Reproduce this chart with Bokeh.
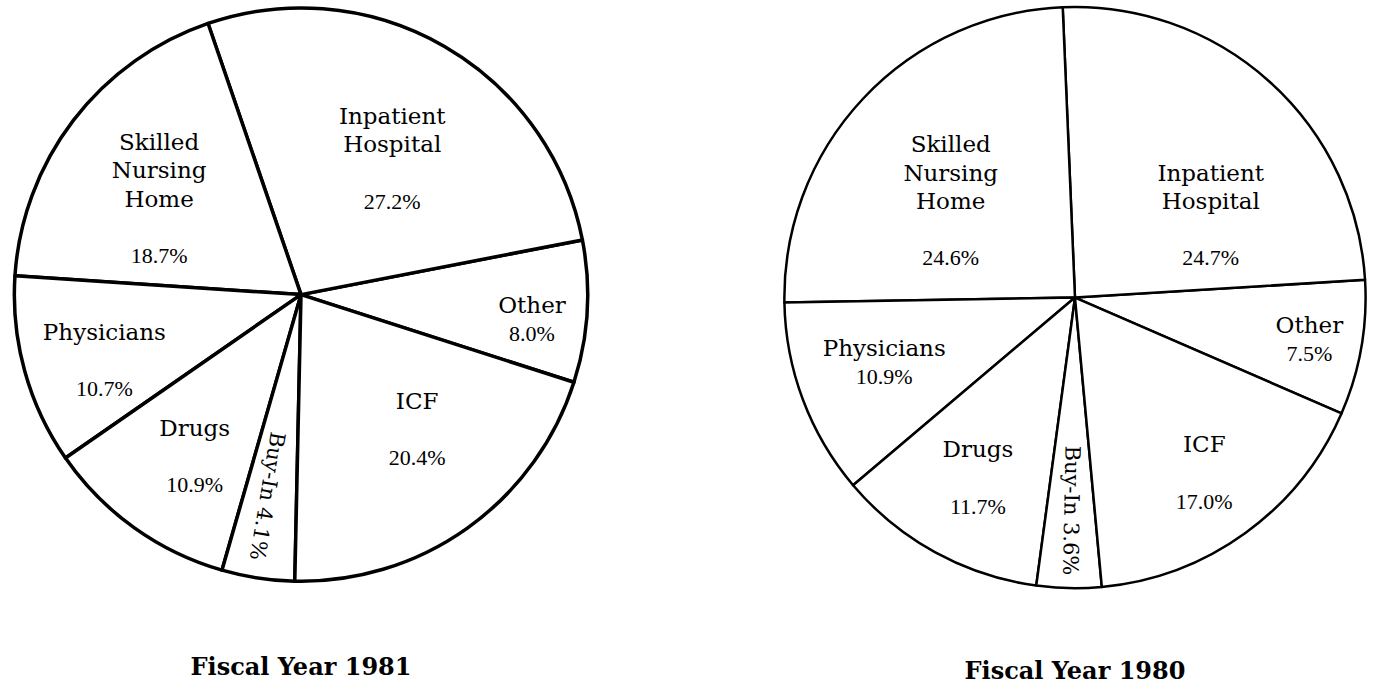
import math
from bokeh.plotting import figure
from bokeh.models import Range1d, ColumnDataSource
from bokeh.core.properties import value
from bokeh.embed import file_html
from bokeh.resources import INLINE

# ---------------- data ----------------
categories = ["Other", "Inpatient Hospital", "Skilled Nursing Home",
              "Physicians", "Drugs", "Buy-In", "ICF"]
name_lines = [["Other"], ["Inpatient", "Hospital"], ["Skilled", "Nursing", "Home"],
              ["Physicians"], ["Drugs"], ["Buy-In"], ["ICF"]]
pct_1981 = [8.0, 27.2, 18.7, 10.7, 10.9, 4.1, 20.4]
pct_1980 = [7.5, 24.7, 24.6, 10.9, 11.7, 3.6, 17.0]
titles = ["Fiscal Year 1981", "Fiscal Year 1980"]

# ---------------- layout (reference pixel space, y measured downward) ----------------
W, H = 1389, 700
pies = [
    dict(values=pct_1981, title=titles[0], cx=304, cy=301, r=290, start=-17.8, lw=3.5,
         gap=[False, True, True, True, True, None, True],
         nudge=[-2.7, -3.5, 3.0, 3.2, 2.5, -0.8, 5.0],
         lr=[235, 167, 174, 210, 197, 209, 181],
         title_y=682),
    dict(values=pct_1980, title=titles[1], cx=1087, cy=304, r=294, start=-23.5, lw=2.5,
         gap=[False, True, True, False, True, None, True],
         nudge=[-0.3, -16.5, 5.1, -1.7, 0.7, 0.2, 0.2],
         lr=[241, 161, 160, 204, 209, 218, 222],
         title_y=686),
]
LINE_H = 29

p = figure(width=1373, height=684, x_range=Range1d(0, W), y_range=Range1d(0, H),
           output_backend="svg", toolbar_location=None, min_border=0)
p.axis.visible = False
p.grid.visible = False
p.outline_line_color = None
p.background_fill_color = "white"
p.border_fill_color = "white"

for pie in pies:
    vals = pie["values"]
    tot = sum(vals)
    cx, cy = pie["cx"], H - pie["cy"]
    starts, ends, mids = [], [], []
    acc = math.radians(pie["start"])
    for v in vals:
        a0 = acc
        a1 = acc + 2 * math.pi * v / tot
        starts.append(a0)
        ends.append(a1)
        mids.append((a0 + a1) / 2)
        acc = a1
    src = ColumnDataSource(dict(start=starts, end=ends))
    p.wedge(x=cx, y=cy, radius=pie["r"], start_angle="start", end_angle="end",
            fill_color="white", line_color="black", line_width=pie["lw"],
            line_join="round", source=src)

    name_x, name_y, name_t = [], [], []
    pct_x, pct_y, pct_t = [], [], []
    rot_x, rot_y, rot_t, rot_a = [], [], [], []
    for i, v in enumerate(vals):
        ang = mids[i] + math.radians(pie["nudge"][i])
        lx = cx + pie["lr"][i] * math.cos(ang)
        ly = cy + pie["lr"][i] * math.sin(ang)
        pct_label = f"{v:.1f}%"
        if pie["gap"][i] is None:
            rot_x.append(lx)
            rot_y.append(ly)
            rot_t.append(" ".join(name_lines[i]) + " " + pct_label)
            rot_a.append(ang - 2 * math.pi)
            continue
        lines = list(name_lines[i]) + ([""] if pie["gap"][i] else []) + [pct_label]
        m = len(lines)
        for j, t in enumerate(lines):
            if not t:
                continue
            yy = ly - (j - (m - 1) / 2) * LINE_H
            if j == m - 1:
                pct_x.append(lx); pct_y.append(yy); pct_t.append(t)
            else:
                name_x.append(lx); name_y.append(yy); name_t.append(t)

    p.text(x=name_x, y=name_y, text=name_t, text_font=value("DejaVu Serif"),
           text_font_size=value("23px"), text_align="center", text_baseline="middle",
           text_color="black")
    p.text(x=pct_x, y=pct_y, text=pct_t, text_font=value("Liberation Serif"),
           text_font_size=value("22px"), text_align="center", text_baseline="middle",
           text_color="black")
    p.text(x=rot_x, y=rot_y, text=rot_t, angle=rot_a, text_font=value("DejaVu Serif"),
           text_font_size=value("21px"), text_align="center", text_baseline="middle",
           text_color="black")
    p.text(x=[pie["cx"]], y=[H - pie["title_y"]], text=[pie["title"]],
           text_font=value("DejaVu Serif"), text_font_size=value("24px"),
           text_font_style="bold", text_align="center", text_baseline="middle",
           text_color="black")

open("out.html", "w").write(file_html(p, INLINE))
